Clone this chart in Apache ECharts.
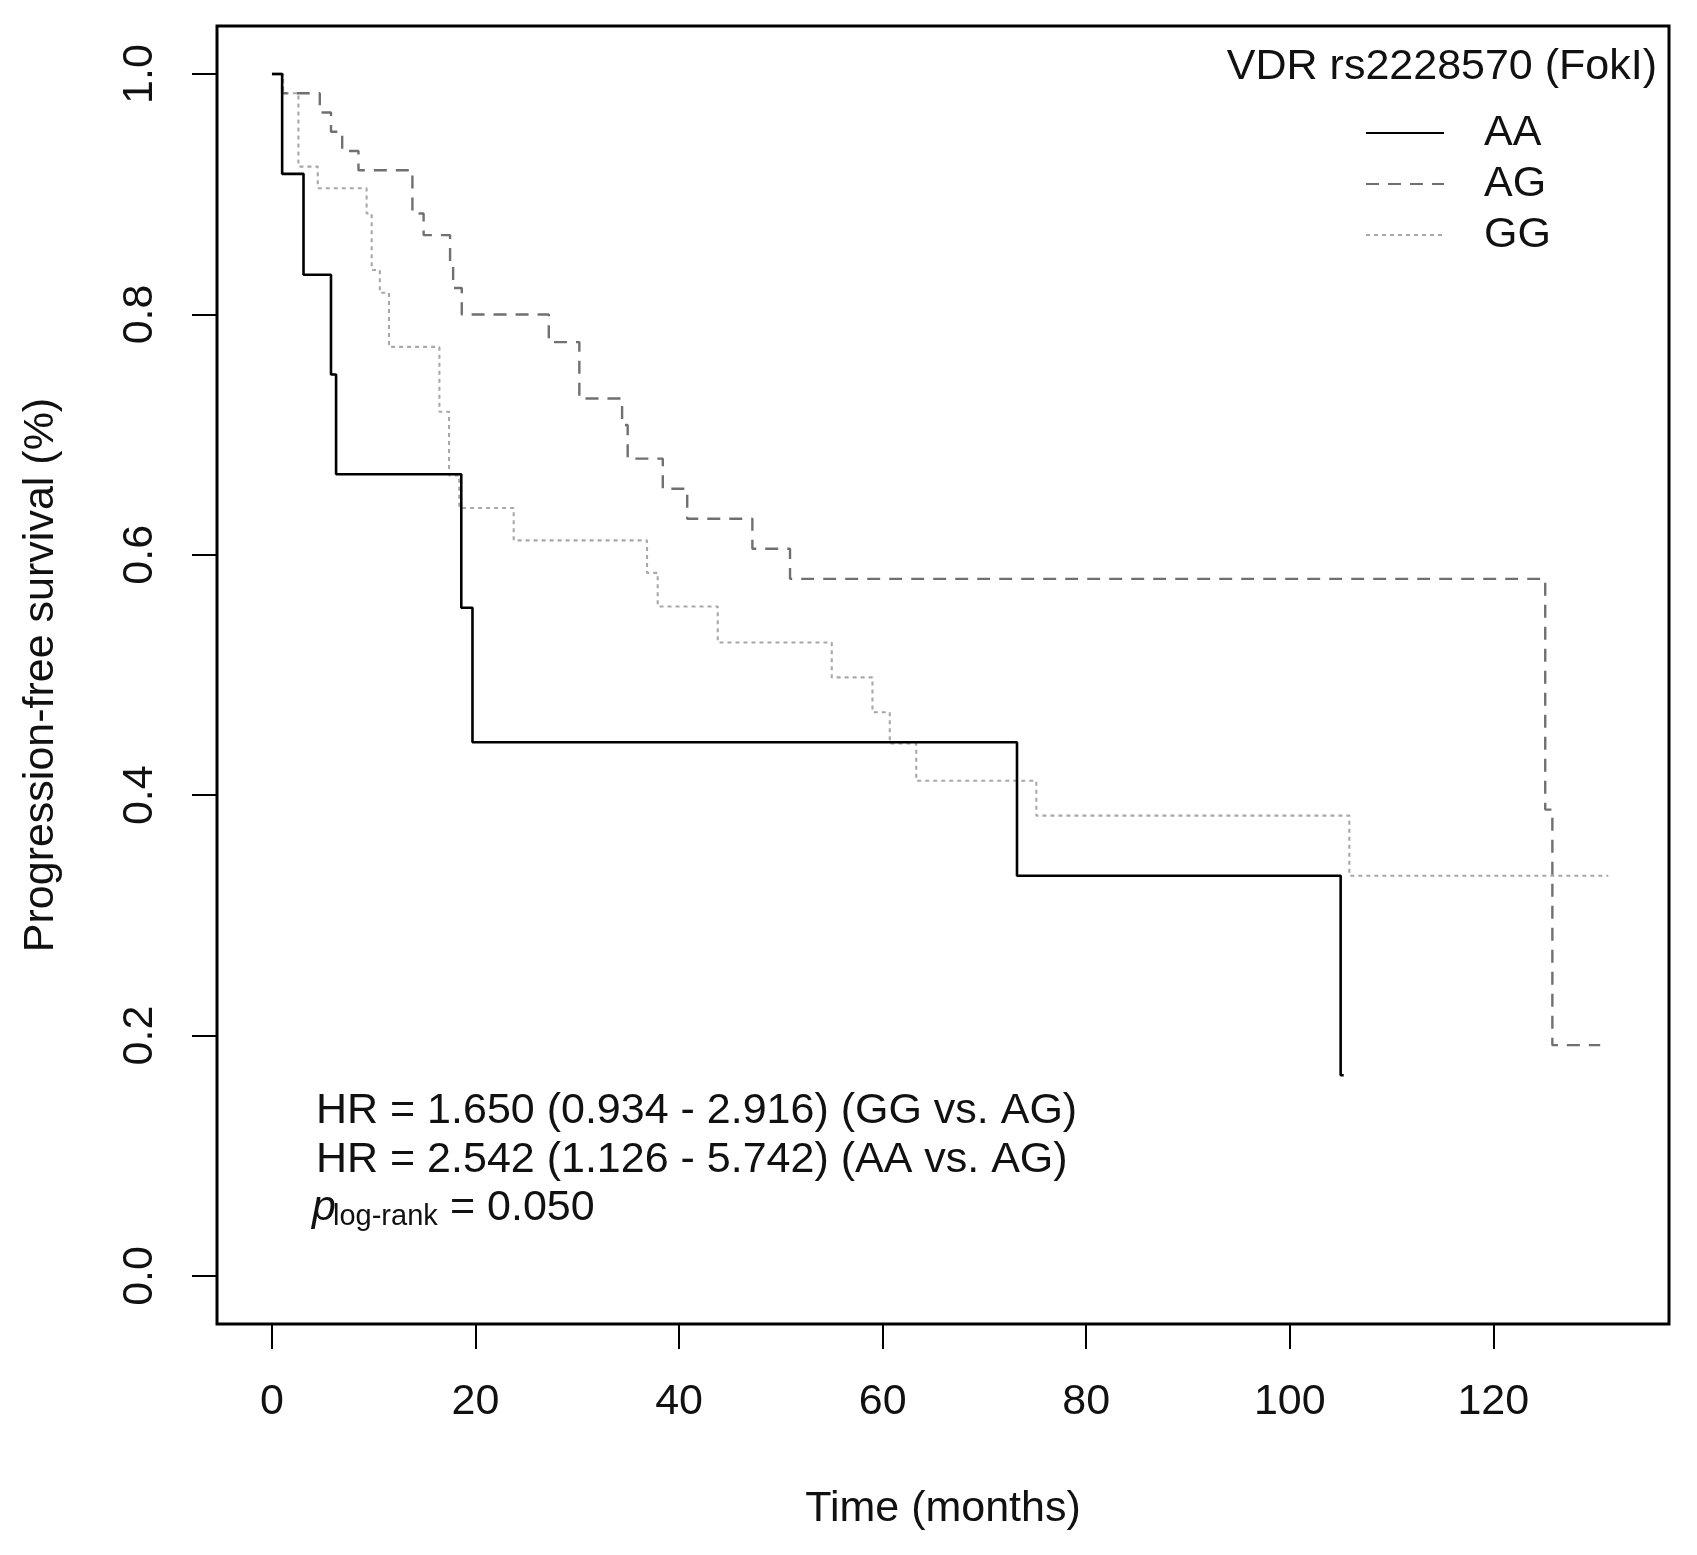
<!DOCTYPE html>
<html><head><meta charset="utf-8">
<script src="https://cdn.jsdelivr.net/npm/echarts@6/dist/echarts.min.js"></script>
<style>html,body{margin:0;padding:0;background:#fff}#c{width:1697px;height:1555px}</style>
</head><body><div id="c"></div>
<script>
const xTicks = [0, 20, 40, 60, 80, 100, 120];
const yTicks = [0, 0.2, 0.4, 0.6, 0.8, 1.0];
const groups = ['AA', 'AG', 'GG'];
const legendTitle = 'VDR rs2228570 (FokI)';
const aaTime = [0, 1.0, 3.1, 5.8, 6.3, 18.6, 19.7, 73.2, 105.0, 105.3];
const aaSurv = [1, 0.917, 0.833, 0.75, 0.667, 0.556, 0.444, 0.333, 0.167, 0.167];
const agTime = [0, 1.0, 4.7, 5.8, 6.9, 8.5, 13.8, 14.9, 17.5, 17.8, 18.65, 27.2, 30.2, 34.4, 34.95, 38.4, 40.8, 47.2, 50.9, 125.1, 125.8, 130.5];
const agSurv = [1, 0.984, 0.968, 0.952, 0.936, 0.920, 0.884, 0.866, 0.844, 0.822, 0.800, 0.777, 0.730, 0.708, 0.680, 0.655, 0.630, 0.605, 0.580, 0.388, 0.192, 0.192];
const ggTime = [0, 1.1, 2.6, 4.5, 9.3, 9.8, 10.6, 11.5, 16.45, 17.4, 18.4, 23.75, 36.85, 37.9, 43.8, 55.0, 59.0, 60.7, 63.3, 75.1, 105.85, 131.3];
const ggSurv = [1, 0.984, 0.923, 0.905, 0.884, 0.837, 0.818, 0.773, 0.719, 0.666, 0.639, 0.612, 0.585, 0.557, 0.527, 0.498, 0.469, 0.443, 0.412, 0.383, 0.333, 0.333];
const statLines = ['HR = 1.650 (0.934 - 2.916) (GG vs. AG)', 'HR = 2.542 (1.126 - 5.742) (AA vs. AG)'];
const pLabel = ['p', 'log-rank', '= 0.050'];

const FONT = '"Liberation Sans", Arial, sans-serif';
const zip = (t, s) => t.map((v, i) => [v, s[i]]);

const chart = echarts.init(document.getElementById('c'), null, {renderer: 'canvas'});
chart.setOption({
  animation: false,
  backgroundColor: '#fff',
  title: {
    text: legendTitle, right: 35, top: 41,
    textStyle: {fontFamily: FONT, fontSize: 43, fontWeight: 'normal', color: '#111'}
  },
  legend: {
    data: groups, orient: 'vertical', left: 1365, top: 111.5, padding: 0,
    itemWidth: 78, itemHeight: 14, itemGap: 8,
    itemStyle: {opacity: 0, borderWidth: 0},
    textStyle: {fontFamily: FONT, fontSize: 43, color: '#111', lineHeight: 43, padding: [0, 0, 0, 35]}
  },
  grid: {left: 217, right: 28, top: 26, bottom: 231, show: true, borderColor: '#000', borderWidth: 3, backgroundColor: 'transparent'},
  xAxis: {
    type: 'value', min: -5.4, max: 137.26,
    name: 'Time (months)', nameLocation: 'middle', nameGap: 164,
    nameTextStyle: {fontFamily: FONT, fontSize: 43, color: '#111'},
    axisLine: {show: false, onZero: false},
    splitLine: {show: false},
    axisTick: {show: true, inside: false, customValues: xTicks, length: 25, lineStyle: {color: '#000', width: 2}},
    axisLabel: {customValues: xTicks, margin: 57, fontFamily: FONT, fontSize: 43, color: '#111'}
  },
  yAxis: {
    type: 'value', min: -0.04, max: 1.04,
    name: 'Progression-free survival (%)', nameLocation: 'middle', nameGap: 154,
    nameTextStyle: {fontFamily: FONT, fontSize: 43, color: '#111'},
    axisLine: {show: false, onZero: false},
    splitLine: {show: false},
    axisTick: {show: true, inside: false, customValues: yTicks, length: 25, lineStyle: {color: '#000', width: 2}},
    axisLabel: {customValues: yTicks, rotate: 90, margin: 55, fontFamily: FONT, fontSize: 43, color: '#111',
      formatter: v => Number(v).toFixed(1)}
  },
  series: [
    {name: groups[0], type: 'line', step: 'end', symbol: 'none', data: zip(aaTime, aaSurv),
     lineStyle: {color: '#000', width: 2.6, type: 'solid'}, itemStyle: {color: '#000'}, z: 3},
    {name: groups[1], type: 'line', step: 'end', symbol: 'none', data: zip(agTime, agSurv),
     lineStyle: {color: '#707070', width: 2.4, type: [13, 9]}, itemStyle: {color: '#707070'}, z: 2},
    {name: groups[2], type: 'line', step: 'end', symbol: 'none', data: zip(ggTime, ggSurv),
     lineStyle: {color: '#a8a8a8', width: 2.1, type: [4, 4]}, itemStyle: {color: '#a8a8a8'}, z: 1}
  ],
  graphic: [
    {type: 'text', x: 316, y: 1111, style: {text: statLines[0], font: '43px ' + FONT, fill: '#111', verticalAlign: 'middle'}},
    {type: 'text', x: 316, y: 1160, style: {text: statLines[1], font: '43px ' + FONT, fill: '#111', verticalAlign: 'middle'}},
    {type: 'text', x: 312, y: 1208, style: {text: pLabel[0], font: 'italic 43px ' + FONT, fill: '#111', verticalAlign: 'middle'}},
    {type: 'text', x: 333, y: 1216.5, style: {text: pLabel[1], font: '29px ' + FONT, fill: '#111', verticalAlign: 'middle'}},
    {type: 'text', x: 450, y: 1208, style: {text: pLabel[2], font: '43px ' + FONT, fill: '#111', verticalAlign: 'middle'}}
  ]
});
</script></body></html>
